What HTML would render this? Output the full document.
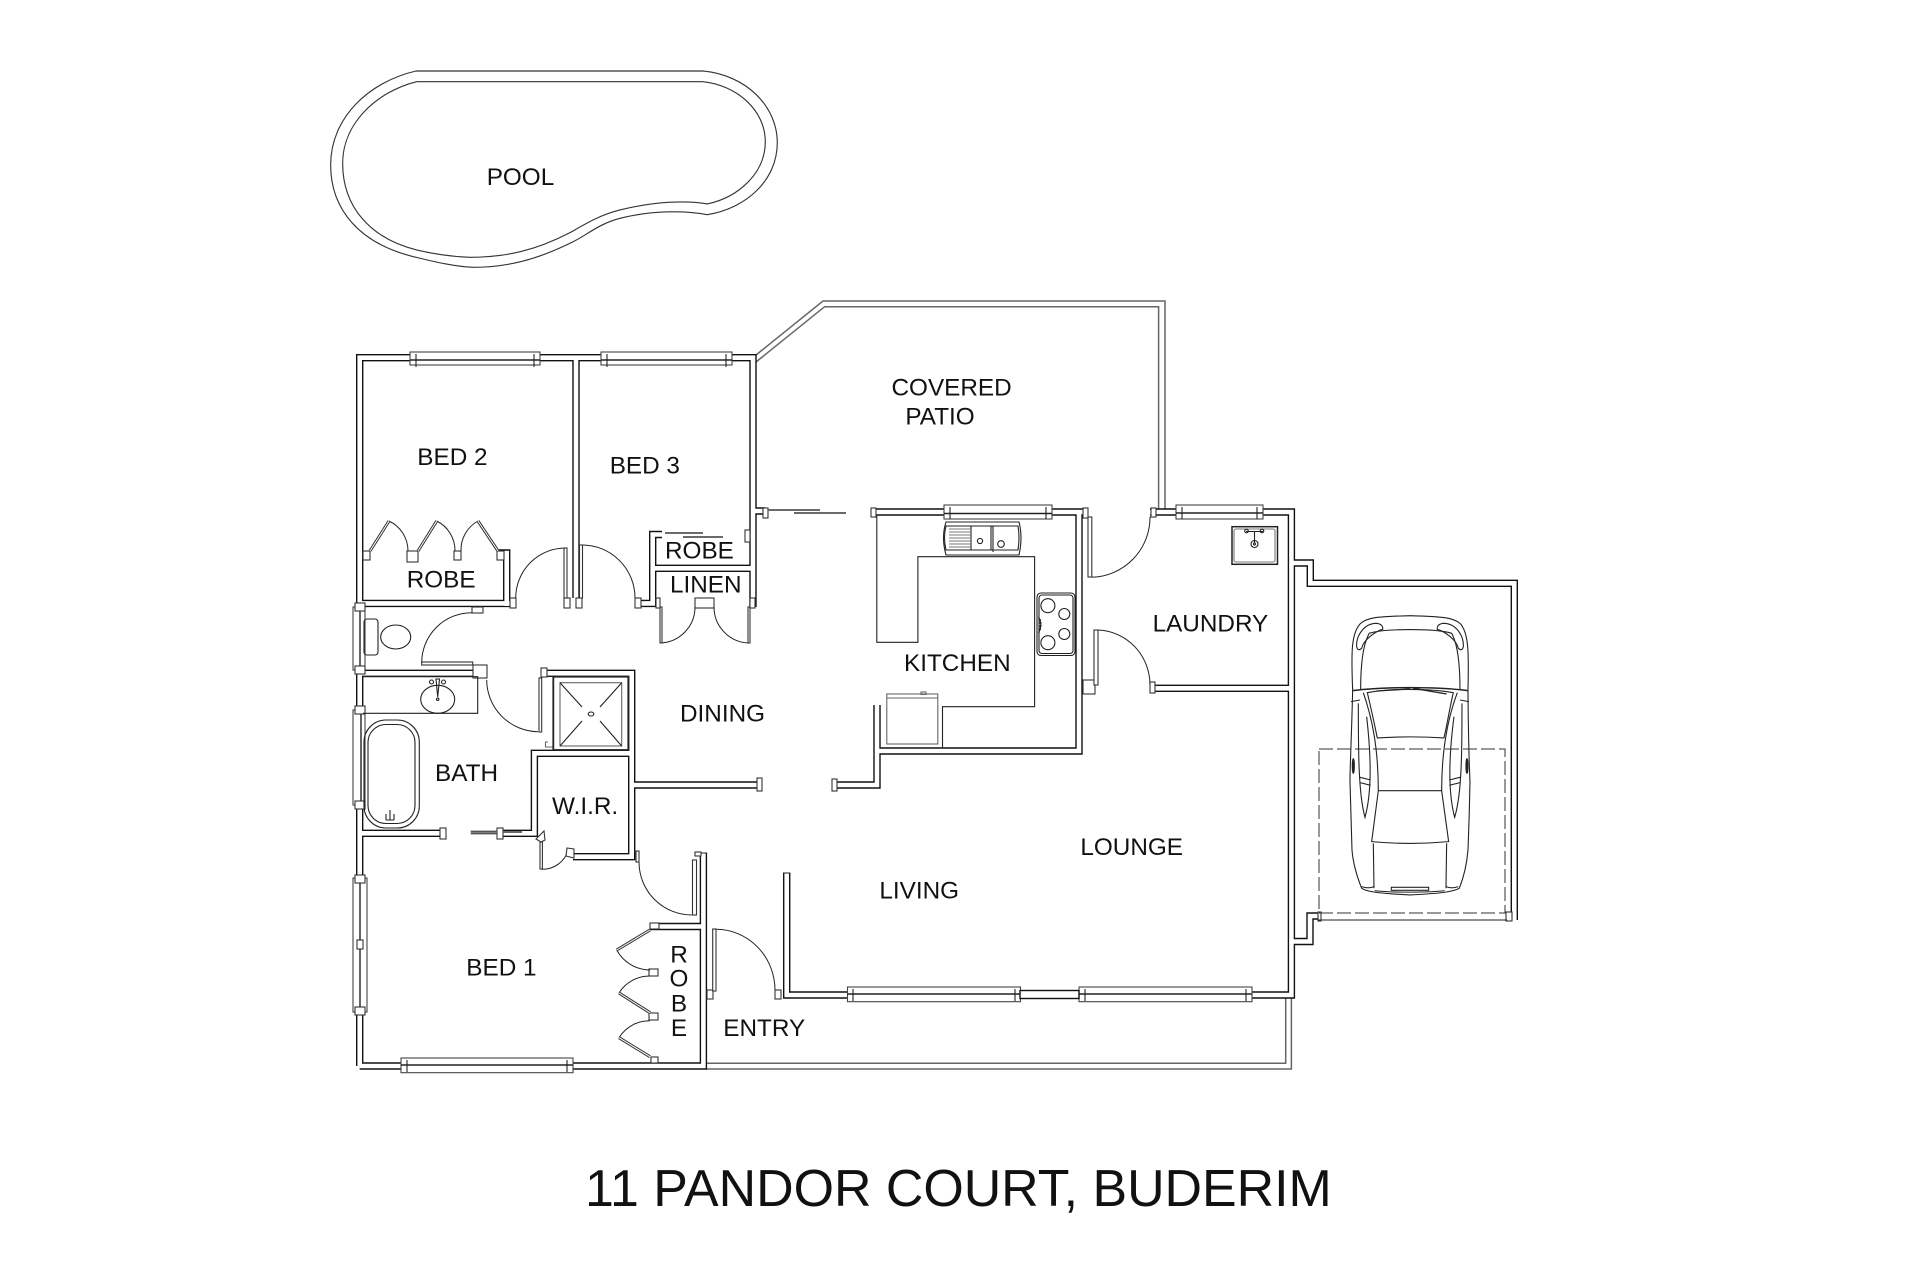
<!DOCTYPE html>
<html><head><meta charset="utf-8"><style>
html,body{margin:0;padding:0;background:#fff}
svg{display:block}
text{font-family:"Liberation Sans",sans-serif;fill:#111;font-size:24.3px}
.l{fill:none;stroke:#222;stroke-width:1.1}
.g{fill:none;stroke:#777;stroke-width:1.1}
.f{fill:#fff;stroke:#333;stroke-width:1.1}
.a{fill:none;stroke:#222;stroke-width:1}
</style></head><body>
<svg width="1920" height="1279" viewBox="0 0 1920 1279" xmlns="http://www.w3.org/2000/svg">
<rect width="1920" height="1279" fill="#fff"/>

<!-- pool -->
<g transform="translate(320,50) scale(.3333)" fill="none" stroke="#333" stroke-width="3.4">
<path d="M288,63 L1148,63 C1280,75 1372,170 1372,278 C1372,390 1280,475 1162,494 C1100,482 1000,480 900,505 C840,520 800,555 760,575 C650,630 560,652 460,652 C400,650 330,632 280,620 C120,580 32,480 32,345 C32,200 150,95 288,63 Z"/>
<path d="M290,95 L1148,95 C1250,105 1336,180 1336,275 C1336,370 1255,442 1162,462 C1100,450 1000,455 900,480 C840,495 800,520 750,548 C650,600 560,622 450,622 C400,620 340,612 290,600 C150,565 68,470 68,340 C68,220 170,125 290,95 Z"/>
</g>

<!-- patio and entry verandah outlines -->
<g style="fill:none;stroke:#666;stroke-width:1.5">
<path d="M756,355 L823,301 L1165,301 L1165,510"/>
<path d="M756,362 L824.6,306.7 L1158.6,306.7 L1158.6,510"/>
<path d="M706,1063.3 L1285.7,1063.3 L1285.7,998"/>
<path d="M706,1069 L1291.4,1069 L1291.4,998"/>
</g>

<!-- walls -->
<g fill="none" stroke="#111" stroke-width="7.4" stroke-linecap="butt" stroke-linejoin="miter">
<path d="M359.7,1066 L359.7,357.7 L753,357.7 L753,607 M753,511 L765,511 M359.7,1066 L703.4,1066 L703.4,853 M576,358 L576,598 M360,603.4 L515,603.4 M506.7,606 L506.7,553 L498,553 M635,603.4 L652.7,603.4 L652.7,534.5 L662,534.5 M652.7,568.3 L753,568.3 M360,673.3 L483,673.3 M360,833.3 L445,833.3 M497,833.3 L534.4,833.3 L534.4,753.3 L631.7,753.3 M541.7,673.3 L631.7,673.3 L631.7,856.7 L573,856.7 M631.7,785 L761,785 M650,926.5 L703,926.5 M786.7,873 L786.7,995 L1291.4,995 L1291.4,512 L1150,512 M871.4,512 L1088,512 M1079,512 L1079,751 L877,751 M877,705 L877,785 L833,785 M1150,688.3 L1291.4,688.3 M1291,563 L1310.3,563 L1310.3,583.3 L1514.3,583.3 L1514.3,920 M1291,941.5 L1310,941.5 L1310,916 L1318,916"/>
</g>
<g fill="none" stroke="#fff" stroke-width="4.6" stroke-linecap="butt" stroke-linejoin="miter">
<path d="M359.7,1066 L359.7,357.7 L753,357.7 L753,607 M753,511 L765,511 M359.7,1066 L703.4,1066 L703.4,853 M576,358 L576,598 M360,603.4 L515,603.4 M506.7,606 L506.7,553 L498,553 M635,603.4 L652.7,603.4 L652.7,534.5 L662,534.5 M652.7,568.3 L753,568.3 M360,673.3 L483,673.3 M360,833.3 L445,833.3 M497,833.3 L534.4,833.3 L534.4,753.3 L631.7,753.3 M541.7,673.3 L631.7,673.3 L631.7,856.7 L573,856.7 M631.7,785 L761,785 M650,926.5 L703,926.5 M786.7,873 L786.7,995 L1291.4,995 L1291.4,512 L1150,512 M871.4,512 L1088,512 M1079,512 L1079,751 L877,751 M877,705 L877,785 L833,785 M1150,688.3 L1291.4,688.3 M1291,563 L1310.3,563 L1310.3,583.3 L1514.3,583.3 L1514.3,920 M1291,941.5 L1310,941.5 L1310,916 L1318,916"/>
</g>
<!-- wall end caps -->
<g class="l">
<path d="M699.7,853 H707.1 M783,873 H790.4"/>
</g>

<!-- windows -->
<g class="f" style="stroke:#444">
<rect x="410" y="352" width="130" height="13"/>
<rect x="601" y="352" width="131" height="13"/>
<rect x="1176" y="505" width="87" height="14"/>
<rect x="944" y="505" width="108" height="14"/>
<rect x="847.5" y="987" width="173" height="14.7"/>
<rect x="1079" y="987" width="173" height="14.7"/>
<rect x="401" y="1058" width="172" height="14.7"/>
<rect x="353" y="607" width="12" height="63"/>
<rect x="353" y="710" width="12" height="95"/>
<rect x="353" y="878" width="14" height="134"/>
</g>
<g stroke="#222" stroke-width="1.4" fill="none">
<path d="M410,360 H540 M601,360 H732 M1176,513 H1263 M944,513.5 H1052 M847.5,994 H1020 M1079,994 H1252 M401,1065 H573 M360,607 V670 M361,710 V805 M360,878 V1012"/>
<path d="M416,354 v13 M534,354 v13 M607,354 v13 M726,354 v13 M1182,507 v12 M1257,507 v12 M950,507 v12 M1046,507 v12 M853,989 v12 M1015,989 v12 M1085,989 v12 M1246,989 v12 M407,1060 v12 M567,1060 v12" stroke-width="1.1"/>
</g>
<g class="f">
<rect x="357" y="940" width="6" height="9"/>
<rect x="1020" y="990.5" width="59" height="8" style="fill:#fff;stroke:#111;stroke-width:1.4"/>
<rect x="355" y="603" width="10" height="8"/><rect x="355" y="666" width="10" height="8"/>
<rect x="355" y="706" width="10" height="8"/><rect x="355" y="801" width="10" height="8"/>
<rect x="355" y="875" width="10" height="8"/><rect x="355" y="1007" width="10" height="8"/>
</g>

<!-- jambs -->
<g class="f">
<rect x="363" y="551" width="7" height="9"/><rect x="407" y="551" width="11" height="11"/><rect x="454" y="551" width="7" height="9"/><rect x="497" y="551" width="7" height="9"/>
<rect x="510" y="598" width="6" height="10"/><rect x="564" y="598" width="6" height="10"/><rect x="576" y="598" width="6" height="10"/><rect x="635" y="598" width="6" height="10"/>
<rect x="656" y="598" width="4" height="10"/><rect x="695" y="598" width="19" height="10"/><rect x="750" y="598" width="5" height="10"/>
<rect x="472" y="607" width="11" height="6"/><rect x="473" y="665" width="14" height="13"/>
<rect x="763" y="508" width="5" height="10"/><rect x="745" y="530" width="5" height="12"/>
<rect x="541" y="668" width="6" height="9"/>
<rect x="440" y="828" width="6" height="11"/><rect x="497" y="828" width="6" height="11"/>
<rect x="757" y="778" width="5" height="13"/>
<rect x="636" y="851" width="3" height="11"/><rect x="695" y="852" width="6" height="4"/>
<rect x="650" y="923" width="9" height="6"/><rect x="649" y="969" width="9" height="7"/><rect x="649" y="1013" width="9" height="7"/><rect x="651" y="1057" width="7" height="6"/>
<rect x="707" y="990" width="6" height="9"/><rect x="775" y="990" width="6" height="9"/>
<rect x="832" y="779" width="5" height="12"/><rect x="871" y="508" width="5" height="9"/>
<rect x="1083" y="508" width="5" height="10"/><rect x="1151" y="508" width="5" height="9"/>
<rect x="1083" y="680" width="12" height="14"/><rect x="1150" y="682" width="5" height="11"/>
<rect x="1318" y="912" width="3" height="9"/><rect x="1506" y="912" width="6" height="9"/>
</g>

<!-- doors -->
<g class="a">
<path d="M566.7,548 A50,50 0 0 0 515.7,598"/>
<path d="M580.7,545 A53,53 0 0 1 635,598"/>
<path d="M660,643 A36,36 0 0 0 695,607"/>
<path d="M714,607 A36,36 0 0 0 749.3,643"/>
<path d="M471.7,612.7 A50,50 0 0 0 421.7,662.7"/>
<path d="M486.7,680 A52,52 0 0 0 538,731.7"/>
<path d="M541.7,869.3 A27,27 0 0 0 568.3,850"/>
<path d="M639,862.3 A53,53 0 0 0 691.7,915"/>
<path d="M716,929.3 A59,61 0 0 1 775,990"/>
<path d="M1091.8,577.3 A60,60 0 0 0 1150,516.7"/>
<path d="M1098,630 A54,55 0 0 1 1150,685"/>
<path d="M389,521 A33,33 0 0 1 408,551"/>
<path d="M436.7,521 A33,33 0 0 1 455,551"/>
<path d="M461,551 A33,33 0 0 1 478,521"/>
<path d="M616.7,950 A38,38 0 0 0 650,970"/>
<path d="M650,976 A36,36 0 0 0 619,993"/>
<path d="M650,1020.7 A36,36 0 0 0 619,1037.7"/>
</g>
<g class="f">
<rect x="564" y="548" width="3" height="50"/><rect x="579.5" y="545" width="3" height="53"/>
<rect x="660" y="607" width="2" height="36"/><rect x="748" y="607" width="2" height="36"/>
<rect x="421.7" y="662" width="51" height="3"/>
<rect x="539" y="678" width="2.7" height="54"/>
<rect x="540" y="842" width="2.4" height="27"/>
<rect x="692.5" y="860" width="4" height="55"/>
<rect x="712.7" y="929" width="3.3" height="62"/>
<rect x="1088" y="517" width="3.8" height="60"/>
<rect x="1094" y="630" width="4" height="55"/>
</g>
<g stroke="#333" stroke-width="3" fill="none">
<path d="M370,551 L389,521 M418,551 L436.7,521 M478,521 L498,551 M650,930 L616.7,950 M619,993 L650,1012.7 M619,1037.7 L650,1056.7"/>
</g>
<g stroke="#fff" stroke-width="1" fill="none">
<path d="M370,551 L389,521 M418,551 L436.7,521 M478,521 L498,551 M650,930 L616.7,950 M619,993 L650,1012.7 M619,1037.7 L650,1056.7"/>
</g>
<!-- wir door jambs -->
<g class="f"><path d="M536,839 L544,831 L545,840 L541,842 Z"/><path d="M567,848 L574,849 L574,858 L566,856 Z"/></g>

<!-- sliding doors -->
<g stroke="#555" stroke-width="1.8" fill="none">
<path d="M665,533 H703 M683,537 H723"/>
<path d="M768,510 H820 M794,513 H846"/>
<path d="M470.7,831.5 H497 M470.7,833.5 H497 M503,832 H522"/>
</g>

<!-- fixtures -->
<g class="l">
<rect x="364" y="619" width="14" height="36" rx="3"/>
<ellipse cx="395.7" cy="637" rx="15" ry="12"/>
<path d="M363,676.7 H477.7 V713.3 H363"/>
<ellipse cx="437.7" cy="699.3" rx="17" ry="14"/>
<circle cx="431.5" cy="682" r="2"/><circle cx="443.5" cy="682" r="2"/>
<path d="M436,679 L437.7,697 L439.5,679 Z"/><circle cx="437.7" cy="699.3" r="1.2"/>
<rect x="364" y="720" width="55.3" height="108" rx="22" ry="22"/>
<rect x="368" y="724.5" width="47" height="99" rx="18" ry="18"/>
<path d="M386,820 v-6 M390,820 v-10 M394,820 v-6 M386,820 h8"/>
<rect x="553.3" y="676.7" width="75" height="73.3" stroke-width="1.8" fill="#fff"/>
<rect x="560" y="682.7" width="61.7" height="63.3" stroke="#666"/>
<ellipse cx="591" cy="714" rx="2.8" ry="2"/>
<path d="M560,682.7 L582,707 M621.7,682.7 L600,707 M560,746 L582,721 M621.7,746 L600,721"/>
<path d="M548,742 h-2.5 v5 h7" stroke="#666"/>
<path d="M876.8,516 V642.3 H917.9 V556.7 H1034.6 V706.7 H942.5 V748.3"/>
<rect x="886.8" y="694" width="51" height="50" stroke="#666"/>
<path d="M887,698 H938" stroke="#666"/>
<rect x="921" y="692" width="5" height="2.5" stroke="#666"/>
<path d="M946,522 H1019 Q1023,537 1019,555 H946 Q941,537 946,522 Z" fill="#fff"/>
<path d="M946,526 H1018 Q1020,537 1018,550 H946 Q943,537 946,526 Z"/>
<path d="M971,526 V550 M991,526 V550 M993,526 V552"/>
<path d="M949,529 H971 M949,532 H971 M949,535 H971 M949,538 H971 M949,541 H971 M949,544 H971 M949,547 H971" stroke="#777"/>
<circle cx="980" cy="541" r="2.6"/><circle cx="1001" cy="544" r="3.3"/>
<rect x="1037" y="593" width="38" height="62.5" rx="4" fill="#fff"/>
<rect x="1039" y="595" width="34" height="58.5" rx="3"/>
<circle cx="1047.9" cy="605.7" r="7"/><circle cx="1064.3" cy="614" r="5.5"/>
<circle cx="1064.3" cy="634" r="5.5"/><circle cx="1047.9" cy="642.7" r="7"/>
<path d="M1038.5,617 Q1043,624.5 1038.5,633" stroke-width="1.2"/>
<path d="M1039,620 h2 M1039.5,623 h2 M1039.5,626 h2 M1039,629 h2" stroke-width="1.4"/>
<rect x="1232" y="526.7" width="45.5" height="37.6" fill="#fff" stroke-width="1.5"/>
<rect x="1234" y="529" width="41" height="33" rx="2" stroke="#777"/>
<path d="M1246,531.5 H1263 M1254.5,531 V543"/>
<circle cx="1246.5" cy="531" r="1.8"/><circle cx="1262" cy="531" r="1.8"/>
<circle cx="1254.5" cy="544" r="3.5"/><circle cx="1254.5" cy="544" r="1"/>
</g>

<!-- garage door and dashed outline -->
<path d="M1318,920 H1507" class="l"/>
<rect x="1319" y="749" width="186" height="164" fill="none" stroke="#333" stroke-width="1" stroke-dasharray="14 4"/>

<!-- car -->
<g transform="translate(1250,500) scale(.3333)" fill="none" stroke="#222" stroke-width="3.3">
<path d="M308,570 C303,450 305,400 330,372 C350,352 380,350 480,347 C580,350 610,352 632,372 C655,400 657,450 654,570"/>
<path d="M308,570 C305,700 300,800 300,845 C303,950 305,1000 306,1050 C310,1100 325,1140 335,1165 C350,1175 380,1180 480,1185 C580,1180 610,1175 628,1165 C640,1135 650,1100 654,1050 C656,1000 658,950 660,845 C658,800 655,700 654,570"/>
<path d="M332,568 C332,490 340,430 358,400 C400,385 560,385 605,400 C622,430 630,490 630,568"/>
<path d="M320,440 C318,410 340,370 380,370 C395,372 400,380 398,388 C375,395 340,420 335,445 C328,452 322,450 320,440 Z"/>
<path d="M640,440 C642,410 620,370 580,370 C565,372 560,380 562,388 C585,395 620,420 625,445 C632,452 638,450 640,440 Z"/>
<path d="M308,572 C400,560 560,560 654,572" stroke-width="4.5"/>
<path d="M352,578 C420,565 540,565 610,578 C600,620 590,680 582,714 C520,710 440,710 382,714 C375,680 362,620 352,578 Z"/>
<path d="M340,578 C365,650 385,740 385,872 L365,1025 C440,1032 520,1032 596,1025 L575,872 C575,740 595,650 622,578"/>
<path d="M385,872 H575"/>
<path d="M370,1030 L372,1165 M590,1030 L588,1165"/>
<path d="M374,1172 C420,1178 540,1178 584,1172"/>
<rect x="424" y="1162" width="112" height="9"/>
<path d="M325,610 C325,750 325,880 345,952 C365,880 365,780 350,650 M636,610 C636,750 636,880 614,952 C595,880 595,780 612,650"/>
<path d="M330,832 L362,840 M330,848 L362,856 M630,832 L598,840 M630,848 L598,856"/>
<path d="M303,605 L330,600 M657,605 L630,600"/>
<ellipse cx="310" cy="798" rx="3" ry="22" fill="#222"/><ellipse cx="651" cy="798" rx="3" ry="22" fill="#222"/>
<path d="M380,573 L480,567 M490,565 L590,582" stroke-width="4"/>
<path d="M335,1160 C350,1165 360,1165 372,1160 M625,1160 C610,1165 600,1165 588,1160"/>
</g>

<!-- labels -->
<text x="486.7" y="185">POOL</text>
<text x="891.5" y="395.3">COVERED</text>
<text x="905.4" y="424.3">PATIO</text>
<text x="417.3" y="465">BED 2</text>
<text x="609.7" y="473.3">BED 3</text>
<text x="406.7" y="587.7">ROBE</text>
<text x="665" y="558.3">ROBE</text>
<text x="670" y="592.3">LINEN</text>
<text x="1152.6" y="631.3">LAUNDRY</text>
<text x="904" y="671">KITCHEN</text>
<text x="680" y="721.3">DINING</text>
<text x="435" y="781">BATH</text>
<text x="552" y="814">W.I.R.</text>
<text x="1080.4" y="855">LOUNGE</text>
<text x="879.4" y="898.3">LIVING</text>
<text x="466.3" y="975.7">BED 1</text>
<text x="723.3" y="1036">ENTRY</text>
<text x="679" y="962.7" text-anchor="middle">R</text>
<text x="679" y="986.7" text-anchor="middle">O</text>
<text x="679" y="1011.7" text-anchor="middle">B</text>
<text x="679" y="1036" text-anchor="middle">E</text>
<text x="585" y="1206" style="font-size:51.9px">11 PANDOR COURT, BUDERIM</text>
</svg>
</body></html>
